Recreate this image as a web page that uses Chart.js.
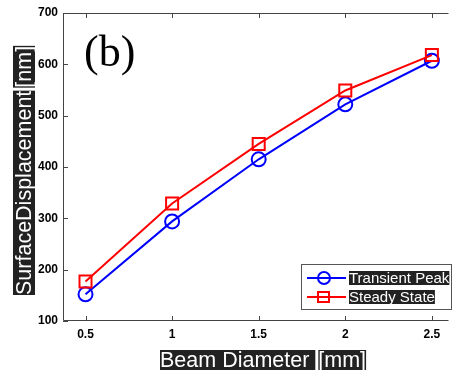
<!DOCTYPE html>
<html>
<head>
<meta charset="utf-8">
<script src="https://cdn.jsdelivr.net/npm/chart.js@4/dist/chart.umd.min.js"></script>
<style>
  html, body { margin: 0; padding: 0; background: #fff; }
  #wrap { width: 459px; height: 374px; }
</style>
</head>
<body>
<div id="wrap"><canvas id="dispChart" width="459" height="374"></canvas></div>
<script>
// beam diameter (mm)
const beamDiameter = [0.5, 1, 1.5, 2, 2.5];
// surface displacement (nm)
const transientPeak = [152, 294, 415, 522, 607];
const steadyState = [177, 329, 445, 549, 618];

const xTicks = [0.5, 1, 1.5, 2, 2.5];
const yTicks = [100, 200, 300, 400, 500, 600, 700];

const seriesNames = ["Transient Peak", "Steady State"];
const seriesColors = ["#0000ff", "#ff0000"];

const tickFont = { family: "Liberation Sans, Arial, sans-serif", size: 12, weight: "bold" };

function toPoints(ys) {
  return beamDiameter.map((x, i) => ({ x: x, y: ys[i] }));
}

// white text on dark blocks, like the exported figure
function blockText(ctx, words, x, y, font, padY) {
  ctx.font = font;
  ctx.textBaseline = "middle";
  ctx.textAlign = "left";
  let cx = x;
  words.forEach(w => {
    const wdt = ctx.measureText(w).width;
    ctx.fillStyle = "#222";
    ctx.fillRect(cx, y - padY, wdt, padY * 2);
    ctx.fillStyle = "#fff";
    ctx.fillText(w, cx, y + 1);
    cx += wdt + 3;
  });
  return cx;
}

const decor = {
  id: "decor",
  beforeDatasetsDraw(chart) {
    const ctx = chart.ctx;
    const a = chart.chartArea;
    const xs = chart.scales.x, ys = chart.scales.y;
    ctx.save();
    ctx.strokeStyle = "#444";
    ctx.lineWidth = 1;
    ctx.beginPath();
    // left, top and bottom axis lines (right one is cut off in the figure)
    ctx.moveTo(a.right, a.top + 0.5);
    ctx.lineTo(a.left + 0.5, a.top + 0.5);
    ctx.lineTo(a.left + 0.5, a.bottom - 0.5);
    ctx.lineTo(a.right, a.bottom - 0.5);
    // inward ticks
    xTicks.forEach(v => {
      const px = Math.round(xs.getPixelForValue(v)) + 0.5;
      ctx.moveTo(px, a.bottom);
      ctx.lineTo(px, a.bottom - 5);
      ctx.moveTo(px, a.top);
      ctx.lineTo(px, a.top + 5);
    });
    yTicks.forEach(v => {
      const py = Math.round(ys.getPixelForValue(v)) + 0.5;
      ctx.moveTo(a.left, py);
      ctx.lineTo(a.left + 5, py);
    });
    ctx.stroke();
    ctx.restore();
  },
  afterDraw(chart) {
    const ctx = chart.ctx;
    ctx.save();

    // panel label
    ctx.fillStyle = "#000";
    ctx.font = "44px 'Liberation Serif', 'Times New Roman', serif";
    ctx.textBaseline = "alphabetic";
    ctx.textAlign = "left";
    ctx.fillText("(b)", 84, 66);

    const titleFont = "21.5px 'Liberation Sans', Arial, sans-serif";
    // x title
    blockText(ctx, ["Beam Diameter ", "[mm]"], 160, 360, titleFont, 10);

    // y title (rotated)
    ctx.save();
    ctx.translate(24, 295);
    ctx.rotate(-Math.PI / 2);
    blockText(ctx, ["SurfaceDisplacement", "[nm]"], 0, 0, titleFont, 11);
    ctx.restore();

    // legend box
    const lx = 301, ly = 264, lw = 150, lh = 45;
    ctx.fillStyle = "#fff";
    ctx.fillRect(lx, ly, lw, lh);
    ctx.strokeStyle = "#555";
    ctx.lineWidth = 1;
    ctx.strokeRect(lx + 0.5, ly + 0.5, lw, lh);
    const rows = [278, 297];
    seriesNames.forEach((name, i) => {
      const y = rows[i];
      ctx.strokeStyle = seriesColors[i];
      ctx.lineWidth = 2;
      ctx.beginPath();
      ctx.moveTo(307, y);
      ctx.lineTo(346, y);
      ctx.stroke();
      ctx.beginPath();
      if (i === 0) {
        ctx.arc(324, y, 6, 0, Math.PI * 2);
      } else {
        ctx.rect(318, y - 5, 11, 10);
      }
      ctx.stroke();
      blockText(ctx, [name], 349, y, "15px 'Liberation Sans', Arial, sans-serif", 7);
    });

    ctx.restore();
  }
};

new Chart(document.getElementById("dispChart"), {
  type: "line",
  data: {
    datasets: [
      {
        label: seriesNames[0],
        data: toPoints(transientPeak),
        borderColor: seriesColors[0],
        backgroundColor: "transparent",
        borderWidth: 2,
        pointStyle: "circle",
        pointRadius: 7,
        pointBorderWidth: 2,
        pointBackgroundColor: "transparent",
        order: 1
      },
      {
        label: seriesNames[1],
        data: toPoints(steadyState),
        borderColor: seriesColors[1],
        backgroundColor: "transparent",
        borderWidth: 2,
        pointStyle: "rect",
        pointRadius: 8.5,
        pointBorderWidth: 2,
        pointBackgroundColor: "transparent",
        order: 0
      }
    ]
  },
  options: {
    responsive: false,
    animation: false,
    layout: { padding: { top: 13, right: 0, left: 0, bottom: 0 } },
    plugins: {
      legend: { display: false },
      tooltip: { enabled: false }
    },
    scales: {
      x: {
        type: "linear",
        min: 0.37,
        max: 2.596,
        afterBuildTicks: s => { s.ticks = xTicks.map(v => ({ value: v })); },
        afterFit: s => { s.height = 53; },
        grid: { display: false, drawTicks: false },
        border: { display: false },
        ticks: {
          color: "#000",
          font: tickFont,
          padding: 6,
          maxRotation: 0,
          callback: v => String(v)
        }
      },
      y: {
        min: 100,
        max: 700,
        afterBuildTicks: s => { s.ticks = yTicks.map(v => ({ value: v })); },
        afterFit: s => { s.width = 63; },
        grid: { display: false, drawTicks: false },
        border: { display: false },
        ticks: {
          color: "#000",
          font: tickFont,
          padding: 5,
          callback: v => String(v)
        }
      }
    }
  },
  plugins: [decor]
});
</script>
</body>
</html>
